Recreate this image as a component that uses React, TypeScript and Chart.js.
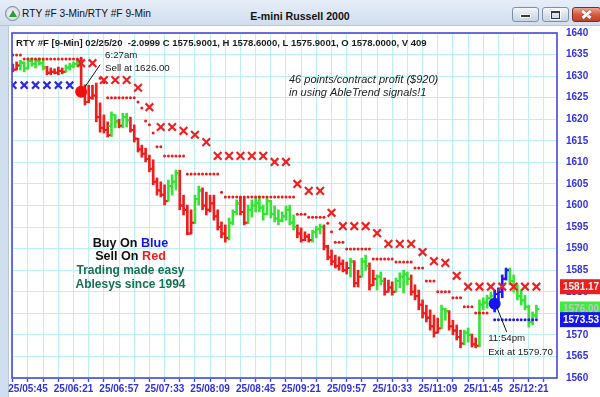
import React, { useEffect, useRef } from 'react';
import { Chart, registerables } from 'chart.js';

Chart.register(...registerables);

const FONT = '"Liberation Sans", Arial, Helvetica, sans-serif';

const windowTitle = 'RTY #F 3-Min/RTY #F 9-Min';
const chartTitle = 'E-mini Russell 2000';
const headerText = 'RTY #F [9-Min] 02/25/20  -2.0999 C 1575.9001, H 1578.6000, L 1575.9001, O 1578.0000, V 409';

const datePrefix = '25/';
const firstBarTime = '05:33';
const barMinutes = 3;
const minorTickMinutes = 12;
const labeledTimes = ['05:45', '06:21', '06:57', '07:33', '08:09', '08:45', '09:21', '09:57', '10:33', '11:09', '11:45', '12:21'];

const yMin = 1560;
const yMax = 1640;
const yStep = 5;

const opens = [
  1632.3, 1631.5, 1632.4, 1633.0, 1631.8, 1633.5, 1632.8, 1633.6, 1633.0, 1632.0,
  1630.8, 1631.0, 1630.8, 1631.2, 1631.0, 1632.0, 1632.4, 1632.8, 1633.0, 1626.6,
  1624.0, 1625.0, 1625.5, 1620.5, 1618.0, 1617.5, 1618.4, 1621.0, 1619.5, 1618.5,
  1620.5, 1619.8, 1617.5, 1615.5, 1613.0, 1612.0, 1610.8, 1608.5, 1605.5, 1603.5,
  1602.5, 1601.0, 1604.5, 1605.5, 1607.5, 1600.0, 1599.0, 1593.5, 1596.0, 1601.5,
  1603.5, 1600.0, 1599.0, 1600.5, 1597.5, 1595.0, 1593.5, 1592.5, 1596.0, 1598.5,
  1600.5, 1598.5, 1596.0, 1599.0, 1600.0, 1600.5, 1599.5, 1598.0, 1601.0, 1598.0,
  1597.0, 1596.5, 1597.5, 1599.0, 1596.0, 1595.0, 1593.5, 1592.0, 1592.8, 1592.0,
  1593.8, 1594.5, 1595.0, 1590.5, 1588.0, 1587.0, 1586.0, 1586.5, 1585.0, 1585.5,
  1587.0, 1582.0, 1583.5, 1587.0, 1586.0, 1581.5, 1583.0, 1583.5, 1582.5, 1580.0,
  1581.0, 1580.0, 1582.5, 1583.5, 1584.0, 1583.0, 1580.0, 1579.0, 1577.0, 1575.0,
  1574.0, 1572.0, 1570.5, 1571.5, 1576.0, 1575.5, 1572.0, 1571.0, 1569.5, 1568.0,
  1570.5, 1570.0, 1567.8, 1567.5, 1577.0, 1577.5, 1578.5, 1579.0, 1579.5, 1580.0,
  1583.0, 1585.0, 1582.5, 1581.0, 1579.0, 1578.0, 1576.5, 1573.0, 1574.5,
];

const highs = [
  1632.8, 1633.3, 1633.7, 1633.3, 1634.2, 1634.2, 1634.0, 1634.2, 1633.7, 1632.3,
  1631.9, 1631.7, 1632.1, 1631.9, 1632.6, 1633.0, 1633.3, 1633.7, 1634.4, 1628.0,
  1627.9, 1627.9, 1628.4, 1623.8, 1621.0, 1619.4, 1621.7, 1621.0, 1620.0, 1621.4,
  1621.4, 1620.5, 1618.7, 1615.6, 1614.0, 1613.3, 1611.7, 1610.6, 1606.4, 1605.5,
  1604.8, 1605.9, 1607.1, 1608.2, 1608.2, 1602.4, 1600.1, 1599.0, 1602.4, 1604.5,
  1604.1, 1603.1, 1602.4, 1602.4, 1599.0, 1596.2, 1595.5, 1597.1, 1599.0, 1601.3,
  1602.0, 1601.7, 1600.1, 1601.3, 1601.7, 1602.2, 1600.1, 1601.7, 1601.2, 1599.9,
  1599.0, 1598.5, 1599.9, 1600.1, 1597.8, 1595.5, 1594.8, 1593.9, 1593.4, 1594.3,
  1595.2, 1595.7, 1595.5, 1590.8, 1589.7, 1588.5, 1588.1, 1587.4, 1586.9, 1587.8,
  1587.2, 1585.0, 1587.8, 1588.5, 1586.7, 1585.0, 1583.9, 1584.6, 1583.2, 1582.7,
  1582.3, 1583.2, 1584.4, 1585.0, 1584.6, 1583.9, 1581.6, 1580.4, 1578.1, 1576.9,
  1575.8, 1574.6, 1573.9, 1576.9, 1576.2, 1575.6, 1573.4, 1572.3, 1571.1, 1571.1,
  1571.6, 1570.2, 1569.3, 1578.1, 1578.6, 1579.2, 1579.9, 1580.4, 1580.9, 1583.9,
  1585.5, 1585.5, 1583.9, 1581.6, 1580.4, 1579.2, 1576.9, 1575.3, 1576.9,
];

const lows = [
  1631.0, 1631.4, 1631.4, 1631.0, 1631.6, 1632.3, 1631.9, 1632.6, 1631.4, 1630.3,
  1630.3, 1630.5, 1630.3, 1630.5, 1630.9, 1631.4, 1631.9, 1632.3, 1626.1, 1623.3,
  1623.8, 1624.6, 1619.4, 1617.0, 1616.8, 1615.9, 1616.0, 1618.0, 1618.0, 1618.0,
  1618.2, 1617.0, 1614.7, 1612.4, 1611.2, 1610.1, 1607.8, 1604.8, 1602.4, 1602.0,
  1600.1, 1601.0, 1602.4, 1603.6, 1599.0, 1597.8, 1593.2, 1593.4, 1595.8, 1600.1,
  1599.0, 1597.8, 1598.5, 1596.6, 1594.3, 1592.5, 1591.5, 1592.0, 1595.5, 1597.8,
  1597.8, 1595.5, 1595.8, 1597.3, 1598.5, 1598.5, 1596.6, 1597.8, 1597.1, 1596.2,
  1595.5, 1596.2, 1596.6, 1595.5, 1594.3, 1592.5, 1591.5, 1591.8, 1591.5, 1591.5,
  1592.5, 1593.4, 1589.7, 1587.4, 1586.2, 1585.5, 1585.0, 1584.6, 1584.1, 1583.4,
  1581.1, 1581.1, 1583.4, 1585.0, 1580.4, 1581.4, 1580.4, 1581.6, 1579.2, 1579.9,
  1579.2, 1579.9, 1580.9, 1579.7, 1581.6, 1579.2, 1578.1, 1575.8, 1573.9, 1573.0,
  1571.1, 1569.5, 1570.4, 1571.4, 1573.4, 1571.1, 1570.0, 1568.8, 1567.0, 1567.7,
  1568.3, 1567.2, 1567.0, 1567.2, 1575.8, 1576.2, 1576.9, 1575.3, 1578.1, 1578.6,
  1582.7, 1581.6, 1579.9, 1578.1, 1576.9, 1575.8, 1571.8, 1572.3, 1573.9,
];

const closes = [
  1631.5, 1632.5, 1633.2, 1631.8, 1633.5, 1632.8, 1633.6, 1633.0, 1632.0, 1630.8,
  1631.0, 1630.8, 1631.2, 1631.0, 1632.0, 1632.4, 1632.8, 1633.0, 1626.6, 1624.0,
  1625.0, 1625.5, 1620.5, 1618.0, 1617.5, 1616.3, 1621.0, 1619.5, 1618.5, 1620.5,
  1619.8, 1617.5, 1615.5, 1613.0, 1612.0, 1610.8, 1608.5, 1605.5, 1603.5, 1602.5,
  1601.0, 1604.5, 1605.5, 1607.5, 1600.0, 1599.0, 1593.5, 1596.0, 1601.5, 1603.5,
  1600.0, 1599.0, 1600.5, 1597.5, 1595.0, 1593.5, 1592.5, 1596.0, 1598.5, 1600.5,
  1598.5, 1596.0, 1599.0, 1600.0, 1600.5, 1599.5, 1598.0, 1601.0, 1598.0, 1597.0,
  1596.5, 1597.5, 1599.0, 1596.0, 1595.0, 1593.5, 1592.0, 1592.8, 1592.0, 1593.8,
  1594.5, 1595.0, 1590.5, 1588.0, 1587.0, 1586.0, 1586.5, 1585.0, 1585.5, 1587.0,
  1582.0, 1583.5, 1587.0, 1586.0, 1581.5, 1583.0, 1583.5, 1582.5, 1580.0, 1581.0,
  1580.0, 1582.5, 1583.5, 1584.0, 1583.0, 1580.0, 1579.0, 1577.0, 1575.0, 1574.0,
  1572.0, 1570.5, 1571.5, 1576.0, 1575.5, 1572.0, 1571.0, 1569.5, 1568.0, 1570.5,
  1570.0, 1567.8, 1567.5, 1577.0, 1577.5, 1578.5, 1579.0, 1579.5, 1580.0, 1583.0,
  1585.0, 1582.5, 1581.0, 1579.0, 1578.0, 1576.5, 1573.0, 1574.5, 1576.0,
];

// r = sell trend (red), g = neutral (green), b = buy trend (blue)
const barTrend = (
  'rr ggggggg rrrrr gggg rrrrrrrr gg r gg rrrrrrrrrr ggg rrrr gg rrrrrrr ggg rr ' +
  'ggggggggggggg rrrr ggg rrrrrrr g rr gg rr gg rrr gggg rrrrrrrr gg rrrr gg rr gggg bbbb gggggggg'
).replace(/ /g, '').split('');

// 3-minute sell stop (small red dots), one per bar
const sellStop3 = [
  1634.9, 1634.9, 1634.9, 1634.0, 1634.0, 1634.0, 1634.0, 1634.0, 1634.0, 1634.0,
  1634.0, 1634.0, 1634.0, 1634.0, 1634.0, 1634.0, 1634.0, 1634.0, 1634.0, null,
  null, null, null, 1629.5, 1628.5, 1625.0, 1625.0, 1625.0, 1625.0, 1625.0,
  1625.0, 1625.0, 1625.0, 1624.0, 1622.6, 1619.6, 1618.7, 1616.8, 1613.6, 1613.6,
  1611.5, 1611.5, 1611.5, 1611.5, 1611.5, 1611.5, 1607.3, 1607.3, 1607.3, 1607.3,
  1607.3, 1607.3, 1607.3, 1607.3, 1607.3, 1603.1, 1602.0, 1602.0, 1602.0, 1602.0,
  1602.0, 1602.0, 1602.0, 1602.0, 1602.0, 1602.0, 1602.0, 1602.0, 1602.0, 1602.0,
  1602.0, 1602.0, 1602.0, 1602.0, 1602.0, 1598.0, 1598.0, 1598.0, 1597.3, 1597.3,
  1597.3, 1597.3, 1597.3, 1595.9, 1593.9, 1591.5, 1591.5, 1591.5, 1589.9, 1589.9,
  1589.9, 1589.9, 1589.9, 1589.9, 1589.9, 1587.6, 1587.6, 1587.6, 1587.6, 1587.6,
  1587.6, 1586.9, 1586.9, 1586.9, 1586.9, 1586.9, 1585.5, 1585.5, 1585.5, 1582.5,
  1582.5, 1582.5, 1580.0, 1580.0, 1580.0, 1580.0, 1578.6, 1578.6, 1578.6, 1576.5,
  1576.5, 1576.5, 1575.1, 1575.1, 1575.1, 1575.1, null, null, null, null,
  null, null, null, null, null, null, null, null, null,
];

// 3-minute buy stop (small blue dots): [bar, price]
const buyStop3 = [
  [127, 1573.53], [128, 1573.53], [129, 1573.53], [130, 1573.53], [131, 1573.53], [132, 1573.53],
  [133, 1573.53], [134, 1573.53], [135, 1573.53], [136, 1573.53], [137, 1573.53], [138, 1573.53],
];

// 9-minute sell stop (red X): [bar, price]
const sellStop9 = [
  [18, 1633.0], [21, 1633.0], [24, 1629.1], [27, 1629.1], [30, 1629.1], [33, 1627.3], [36, 1622.8],
  [39, 1618.2], [42, 1618.2], [45, 1617.3], [48, 1616.4], [51, 1614.7], [54, 1611.5], [57, 1611.5],
  [60, 1611.5], [63, 1611.5], [66, 1611.5], [69, 1610.1], [72, 1610.1], [75, 1605.0], [78, 1603.4],
  [81, 1603.4], [84, 1598.3], [87, 1595.2], [90, 1595.2], [93, 1595.2], [96, 1593.6], [99, 1591.1],
  [102, 1591.1], [105, 1591.1], [108, 1589.2], [111, 1587.1], [114, 1586.7], [117, 1583.7],
  [120, 1581.17], [123, 1581.17], [126, 1581.17], [129, 1581.17], [132, 1581.17], [135, 1581.17], [138, 1581.17],
];

// 9-minute buy stop (blue X): [bar, price]
const buyStop9 = [
  [0, 1627.9], [3, 1627.9], [6, 1627.9], [9, 1627.9], [12, 1627.9], [15, 1627.9],
];

const sellSignal = [18, 1626.4];
const exitSignal = [127, 1577.2];

const sellNote = ['6:27am', 'Sell at 1626.00'];
const exitNote = ['11:54pm', 'Exit at 1579.70'];
const profitNote = ['46 points/contract profit ($920)', 'in using AbleTrend signals!1'];

const priceMarkers = [1581.17, 1576.0, 1573.53];

const RED = '#ee1e1e';
const GREEN = '#36e336';
const BLUE = '#1c1cff';
const trendColor: Record<string, string> = { r: RED, g: GREEN, b: BLUE };
const markerStyles = [
  { bg: '#ee1e1e', fg: '#f3f3f3' },
  { bg: '#3ded3d', fg: '#c4c4c4' },
  { bg: '#1414f0', fg: '#ffffff' },
];

const toMinutes = (s: string) => {
  const [h, m] = s.split(':').map(Number);
  return h * 60 + m;
};
const fmtTime = (v: number) => {
  const h = Math.floor(v / 60);
  const m = Math.round(v - h * 60);
  return `${String(h).padStart(2, '0')}:${String(m).padStart(2, '0')}`;
};
const firstBarMin = toMinutes(firstBarTime);
const barTime = (i: number) => firstBarMin + barMinutes * i;

export default function App() {
  const ref = useRef<HTMLCanvasElement | null>(null);

  useEffect(() => {
    const canvas = ref.current;
    if (!canvas) return;
    const barColors = barTrend.map((c) => trendColor[c]);
    const times = highs.map((_, i) => barTime(i));
    const pairs = (list: number[][]) => list.map(([i, v]) => ({ x: times[i], y: v }));

    const overlay = {
      id: 'overlay',
      afterDraw(chart: any) {
        const { ctx, chartArea: a } = chart;
        const xs = chart.scales.x;
        const ys = chart.scales.y;
        ctx.save();
        ctx.strokeStyle = '#4646dc';
        ctx.lineWidth = 1.6;
        ctx.strokeRect(a.left, a.top, a.right - a.left, a.bottom - a.top);

        ctx.textBaseline = 'middle';
        ctx.textAlign = 'left';
        ctx.font = `bold 10px ${FONT}`;
        const hw = ctx.measureText(headerText).width;
        ctx.font = `bold ${(10 * 411 / hw).toFixed(2)}px ${FONT}`;
        ctx.fillStyle = '#1c1c1c';
        ctx.fillText(headerText, a.left + 4, a.top + 10);

        const sx = xs.getPixelForValue(times[sellSignal[0]]);
        const sy = ys.getPixelForValue(sellSignal[1]);
        ctx.strokeStyle = '#111';
        ctx.lineWidth = 1;
        ctx.beginPath();
        ctx.moveTo(sx + 19, sy - 27);
        ctx.lineTo(sx + 4, sy - 5);
        ctx.stroke();
        ctx.font = `9.7px ${FONT}`;
        ctx.fillStyle = '#1a1a1a';
        ctx.fillText(sellNote[0], sx + 24, sy - 36);
        ctx.fillText(sellNote[1], sx + 24, sy - 23);

        const ex = xs.getPixelForValue(times[exitSignal[0]]);
        const ey = ys.getPixelForValue(exitSignal[1]);
        ctx.beginPath();
        ctx.moveTo(ex + 2, ey + 3);
        ctx.lineTo(ex + 12, ey + 28);
        ctx.stroke();
        ctx.fillText(exitNote[0], ex - 6.5, ey + 34);
        ctx.fillText(exitNote[1], ex - 6.5, ey + 48);

        ctx.font = `italic 11px ${FONT}`;
        ctx.fillStyle = '#1e1e1e';
        ctx.fillText(profitNote[0], 289, 79.5);
        ctx.fillText(profitNote[1], 289, 92.5);

        const drawParts = (parts: [string, string][], cx: number, cy: number) => {
          const ws = parts.map((p) => ctx.measureText(p[0]).width);
          let xx = cx - ws.reduce((s, w) => s + w, 0) / 2;
          parts.forEach(([t, c], k) => {
            ctx.fillStyle = c;
            ctx.fillText(t, xx, cy);
            xx += ws[k];
          });
        };
        ctx.font = `bold 12.6px ${FONT}`;
        drawParts([['Buy On ', '#111111'], ['Blue', '#1515e8']], 130.5, 243.5);
        drawParts([['Sell On ', '#111111'], ['Red', '#ee1c1c']], 130.5, 257);
        ctx.font = `bold 12px ${FONT}`;
        drawParts([['Trading made easy', '#17704f']], 130.5, 270.5);
        drawParts([['Ablesys since 1994', '#17704f']], 130.5, 284.5);

        ctx.font = `bold 10px ${FONT}`;
        priceMarkers.forEach((v, k) => {
          const y = ys.getPixelForValue(v);
          ctx.fillStyle = markerStyles[k].bg;
          ctx.fillRect(a.right + 3, y - 7.5, 50, 15);
          ctx.fillStyle = markerStyles[k].fg;
          ctx.fillText(v.toFixed(2), a.right + 6, y + 0.5);
        });
        ctx.restore();
      },
    };

    const chart = new Chart(canvas, {
      type: 'scatter',
      data: {
        datasets: [
          {
            type: 'scatter',
            label: 'Sell',
            data: [{ x: times[sellSignal[0]], y: sellSignal[1] }],
            pointRadius: 6,
            pointBackgroundColor: '#f01010',
            pointBorderWidth: 0,
            order: 0,
          },
          {
            type: 'scatter',
            label: 'Exit',
            data: [{ x: times[exitSignal[0]], y: exitSignal[1] }],
            pointRadius: 6,
            pointBackgroundColor: '#1414f5',
            pointBorderWidth: 0,
            order: 0,
          },
          {
            type: 'scatter',
            label: 'Sell stop 9',
            data: pairs(sellStop9),
            pointStyle: 'crossRot',
            pointRadius: 5.4,
            pointBorderWidth: 2.2,
            pointBorderColor: '#f02020',
            order: 1,
          },
          {
            type: 'scatter',
            label: 'Buy stop 9',
            data: pairs(buyStop9),
            pointStyle: 'crossRot',
            pointRadius: 5,
            pointBorderWidth: 2.2,
            pointBorderColor: '#2a2ae0',
            order: 1,
          },
          {
            type: 'scatter',
            label: 'Sell stop 3',
            data: sellStop3
              .map((v, i) => (v == null ? null : { x: times[i], y: v }))
              .filter((p) => p !== null) as any,
            pointRadius: 1.5,
            pointBackgroundColor: '#f01818',
            pointBorderWidth: 0,
            order: 2,
          },
          {
            type: 'scatter',
            label: 'Buy stop 3',
            data: pairs(buyStop3),
            pointRadius: 1.5,
            pointBackgroundColor: '#1818f0',
            pointBorderWidth: 0,
            order: 2,
          },
          {
            type: 'scatter',
            label: 'Close',
            data: closes.map((c, i) => ({ x: times[i], y: c })),
            pointStyle: 'dash',
            pointRadius: 3,
            pointBorderWidth: 2,
            pointBorderColor: barColors,
            order: 3,
          },
          {
            type: 'scatter',
            label: 'Open',
            data: opens.map((o, i) => ({ x: times[i], y: o })),
            pointStyle: 'dash',
            pointRadius: 3,
            pointRotation: 180,
            pointBorderWidth: 2,
            pointBorderColor: barColors,
            order: 3,
          },
          {
            type: 'bar',
            label: 'Range',
            data: highs.map((h, i) => ({ x: times[i], y: [lows[i], h] })) as any,
            backgroundColor: barColors,
            borderWidth: 0,
            barThickness: 2,
            grouped: false,
            order: 4,
          } as any,
        ],
      },
      options: {
        responsive: false,
        animation: false,
        devicePixelRatio: 1,
        events: [],
        layout: { padding: { left: 12, top: 33, right: 0, bottom: 0 } },
        plugins: { legend: { display: false }, tooltip: { enabled: false }, title: { display: false } },
        scales: {
          x: {
            type: 'linear',
            offset: false,
            min: firstBarMin - 0.65,
            max: toMinutes('12:43') + 0.3,
            afterBuildTicks: (scale: any) => {
              const ticks = [];
              for (let t = firstBarMin; t <= scale.max; t += minorTickMinutes) ticks.push({ value: t });
              scale.ticks = ticks;
            },
            afterFit: (scale: any) => {
              scale.height = 19;
            },
            grid: {
              offset: false,
              color: '#bdf0f2',
              lineWidth: 1,
              drawTicks: true,
              tickLength: 4,
              tickColor: '#4646dc',
              tickWidth: 1.4,
            },
            border: { display: false },
            ticks: {
              autoSkip: false,
              maxRotation: 0,
              minRotation: 0,
              padding: 1,
              color: '#3030dc',
              font: { family: FONT, size: 10, weight: 'bold' },
              callback: (v: any) => {
                const s = fmtTime(Number(v));
                return labeledTimes.includes(s) ? datePrefix + s : '';
              },
            },
          },
          y: {
            type: 'linear',
            position: 'right',
            min: yMin,
            max: yMax,
            afterFit: (scale: any) => {
              scale.width = 43;
            },
            grid: { color: '#bdf0f2', lineWidth: 1, drawTicks: false },
            border: { display: false },
            ticks: {
              stepSize: yStep,
              autoSkip: false,
              padding: 9,
              color: '#3030dc',
              font: { family: FONT, size: 10, weight: 'bold' },
              callback: (v: any) => String(v),
            },
          },
        } as any,
      },
      plugins: [overlay],
    });
    return () => chart.destroy();
  }, []);

  const btn: React.CSSProperties = {
    position: 'absolute',
    top: 7,
    width: 25,
    height: 13,
    borderRadius: 3,
    border: '1px solid #7f8fa6',
    background: 'linear-gradient(#f4f7fb, #dae4ef 50%, #c6d4e5)',
  };

  return (
    <div
      style={{
        position: 'absolute',
        left: 0,
        top: 0,
        width: 600,
        height: 397,
        overflow: 'hidden',
        background: '#ffffff',
        fontFamily: FONT,
      }}
    >
      <div
        style={{
          position: 'absolute',
          left: 0,
          top: 0,
          width: 600,
          height: 25,
          background: 'linear-gradient(#e6eef8, #d1deee)',
          borderBottom: '1px solid #b7c7da',
        }}
      >
        <div
          style={{
            position: 'absolute',
            left: 5,
            top: 6,
            width: 13,
            height: 13,
            borderRadius: '50%',
            border: '1px solid #7a8797',
            background: 'radial-gradient(#ffffff, #c3ccd6)',
          }}
        >
          <div
            style={{
              position: 'absolute',
              left: 2.5,
              top: 2.5,
              width: 0,
              height: 0,
              borderLeft: '4px solid transparent',
              borderRight: '4px solid transparent',
              borderBottom: '7px solid #2e9a3c',
            }}
          />
        </div>
        <div style={{ position: 'absolute', left: 22, top: 8, fontSize: 10.2, color: '#111', whiteSpace: 'nowrap' }}>
          {windowTitle}
        </div>
        <div
          style={{
            position: 'absolute',
            left: 200,
            width: 200,
            top: 10,
            textAlign: 'center',
            fontSize: 10.6,
            fontWeight: 'bold',
            color: '#111',
            whiteSpace: 'nowrap',
          }}
        >
          {chartTitle}
        </div>
        <div style={{ ...btn, left: 512 }}>
          <div style={{ position: 'absolute', left: 8, top: 7, width: 9, height: 2, background: '#3a3a3a', boxShadow: '0 0 0 1px #fff' }} />
        </div>
        <div style={{ ...btn, left: 542 }}>
          <div
            style={{
              position: 'absolute',
              left: 8,
              top: 3,
              width: 7,
              height: 5,
              border: '1px solid #3a3a3a',
              borderTopWidth: 2,
              boxShadow: '0 0 0 1px #fff',
            }}
          />
        </div>
        <div
          style={{
            ...btn,
            left: 572,
            width: 27,
            border: '1px solid #7a2e22',
            background: 'linear-gradient(#eaa596, #d45a40 50%, #c2412a)',
          }}
        >
          <div style={{ position: 'absolute', left: 8, top: 5, width: 11, height: 2.5, background: '#fff', transform: 'rotate(40deg)', boxShadow: '0 0 1px #5a1a10' }} />
          <div style={{ position: 'absolute', left: 8, top: 5, width: 11, height: 2.5, background: '#fff', transform: 'rotate(-40deg)', boxShadow: '0 0 1px #5a1a10' }} />
        </div>
      </div>
      <div
        style={{
          position: 'absolute',
          left: 0,
          top: 26,
          width: 8,
          height: 371,
          background: '#d1deee',
          borderRight: '1px solid #b7c7da',
        }}
      />
      <canvas ref={ref} width={600} height={397} style={{ position: 'absolute', left: 0, top: 0, width: 600, height: 397 }} />
    </div>
  );
}
